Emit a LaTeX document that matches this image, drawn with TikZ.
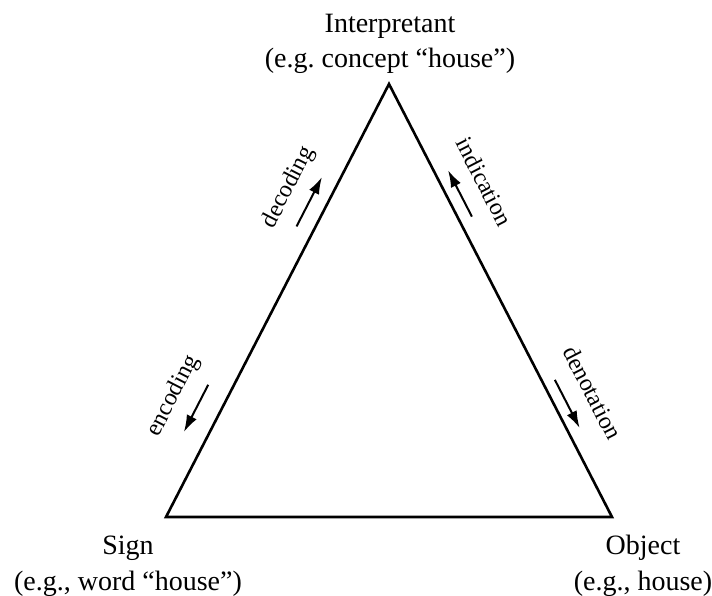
\documentclass[tikz,border=0pt]{standalone}
\usepackage{fontspec}
\setmainfont{Liberation Serif}
\usetikzlibrary{arrows.meta,calc}

\begin{document}
\begin{tikzpicture}[x=1pt,y=-1pt,>={Latex[length=17pt,width=11pt]},
    corner/.style={align=center,font=\fontsize{28}{35.5}\selectfont,inner sep=0pt},
    rel/.style={font=\fontsize{24}{28}\selectfont,inner sep=0pt},
    relarrow/.style={->,line width=2pt}]
  \useasboundingbox (0,0) rectangle (712,596);
  % triangle corners
  \coordinate (int)  at (389,84);
  \coordinate (sign) at (166,517);
  \coordinate (obj)  at (612,517);
  \draw[line width=2.6pt] (sign) -- (int) -- (obj) -- cycle;
  \node[corner] (intlbl)  at (390,44)  {Interpretant\\(e.g.\ concept “house”)};
  \node[corner] (signlbl) at (128,566) {Sign\\(e.g., word “house”)};
  \node[corner] (objlbl)  at (643,566) {Object\\(e.g., house)};
  % arrows beside the sides
  \foreach \nm/\a/\b/\s/\t/\d/\ang in {dec/sign/int/0.653/0.767/17/90,
      enc/sign/int/0.281/0.172/23/90, ind/obj/int/0.680/0.787/13/-90,
      den/int/obj/0.696/0.807/12/90}{
    \coordinate (\nm1) at ($(\a)!\s!(\b)!\d pt!\ang:(\b)$);
    \coordinate (\nm2) at ($(\a)!\t!(\b)!\d pt!\ang:(\b)$);
    \draw[relarrow] (\nm1) -- (\nm2);
  }
  \node[rel,rotate=62.75]  (declbl) at ($(sign)!0.717!(int)!42pt!90:(int)$)  {decoding};
  \node[rel,rotate=62.75]  (enclbl) at ($(sign)!0.228!(int)!49pt!90:(int)$)  {encoding};
  \node[rel,rotate=-62.75] (indlbl) at ($(obj)!0.732!(int)!40pt!-90:(int)$) {indication};
  \node[rel,rotate=-62.75] (denlbl) at ($(int)!0.755!(obj)!40pt!90:(obj)$)  {denotation};
\end{tikzpicture}
\end{document}
